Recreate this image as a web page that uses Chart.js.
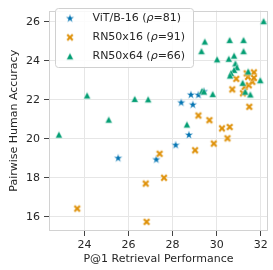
<!DOCTYPE html>
<html>
<head>
<meta charset="utf-8">
<script src="https://cdn.jsdelivr.net/npm/chart.js@4.4.0/dist/chart.umd.min.js"></script>
<style>
html, body { margin: 0; padding: 0; background: #fff; }
#plot { display: block; }
</style>
</head>
<body>
<canvas id="plot" width="273" height="270"></canvas>
<script>
var seriesNames = ["ViT/B-16", "RN50x16", "RN50x64"];
var seriesRho = [81, 91, 66];
var seriesColors = ["#0173b2", "#de8f05", "#029e73"];

var xTicks = [24, 26, 28, 30, 32];
var yTicks = [16, 18, 20, 22, 24, 26];

// ViT/B-16
var vitX = [25.53, 27.26, 28.14, 28.74, 28.39, 28.92, 28.83, 29.17, 29.42];
var vitY = [19.00, 18.93, 19.67, 20.19, 21.85, 21.74, 22.25, 22.24, 22.42];

// RN50x16
var rn16X = [23.67, 26.78, 26.82, 27.41, 27.61, 29.02, 29.87, 30.49, 29.17, 29.67, 30.24, 30.59,
             31.48, 30.71, 30.89, 31.19, 31.27, 31.46, 31.62, 31.42, 31.36, 31.69, 31.69];
var rn16Y = [16.42, 17.70, 15.74, 19.23, 18.00, 19.41, 19.75, 20.02, 21.19, 20.95, 20.53, 20.60,
             21.64, 22.53, 23.07, 22.33, 22.66, 22.74, 22.92, 23.17, 23.35, 23.40, 23.12];

// RN50x64
var rn64X = [22.84, 24.12, 25.10, 26.28, 26.89, 28.65, 29.34, 29.42, 29.82, 29.31, 29.46, 30.02,
             30.55, 30.79, 30.59, 31.22, 31.22, 32.13, 30.85, 30.92, 30.79, 30.65, 30.61, 31.43,
             31.18, 31.98, 31.30, 31.53];
var rn64Y = [20.21, 22.22, 20.98, 22.04, 22.02, 20.73, 22.45, 22.42, 22.29, 24.49, 24.98, 24.07,
             24.10, 24.26, 25.06, 25.06, 24.49, 26.03, 23.86, 23.66, 23.53, 23.37, 23.24, 23.45,
             22.87, 23.00, 22.41, 22.27];

var gridColor = "#e6e6e6";
var frameColor = "#d2d2d2";
var textColor = "#262626";
var fontFamily = "'DejaVu Sans', sans-serif";

function pts(xs, ys) {
  return xs.map(function (x, i) { return { x: x, y: ys[i] }; });
}

// little canvases used as point styles (filled star, X, triangle like matplotlib)
function makeMarker(shape, color) {
  var c = document.createElement("canvas");
  c.width = 10; c.height = 10;
  var g = c.getContext("2d");
  g.translate(5, 5);
  g.beginPath();
  if (shape === "star") {
    for (var i = 0; i < 10; i++) {
      var r = i % 2 ? 1.8 : 4.5;
      var a = -Math.PI / 2 + i * Math.PI / 5;
      g.lineTo(r * Math.cos(a), r * Math.sin(a));
    }
  } else if (shape === "tri") {
    g.moveTo(0, -3.5); g.lineTo(3.5, 3.3); g.lineTo(-3.5, 3.3);
  } else {
    var w = 1.15, l = 4.0;
    var p = [[w, w], [w, l], [-w, l], [-w, w], [-l, w], [-l, -w], [-w, -w], [-w, -l], [w, -l], [w, -w], [l, -w], [l, w]];
    g.rotate(Math.PI / 4);
    p.forEach(function (q) { g.lineTo(q[0], q[1]); });
  }
  g.closePath();
  g.fillStyle = color;
  g.fill();
  g.lineWidth = 0.5;
  g.strokeStyle = "rgba(255,255,255,0.8)";
  g.stroke();
  return c;
}

var markers = [
  makeMarker("star", seriesColors[0]),
  makeMarker("x", seriesColors[1]),
  makeMarker("tri", seriesColors[2])
];

var framePlugin = {
  id: "frame",
  beforeDatasetsDraw: function (chart) {
    var a = chart.chartArea, c = chart.ctx;
    c.save();
    c.strokeStyle = frameColor;
    c.lineWidth = 1;
    c.strokeRect(Math.round(a.left) + 0.5, Math.round(a.top) + 0.5,
                 Math.round(a.right - a.left) - 1, Math.round(a.bottom - a.top) - 1);
    c.restore();
  }
};

var legendPlugin = {
  id: "boxLegend",
  afterDraw: function (chart) {
    var c = chart.ctx;
    var bx = 55, by = 8, bw = 138, bh = 59;
    c.save();
    c.beginPath();
    c.roundRect(bx + 0.5, by + 0.5, bw, bh, 3);
    c.fillStyle = "rgba(255,255,255,0.85)";
    c.fill();
    c.strokeStyle = "#d0d0d0";
    c.lineWidth = 1;
    c.stroke();
    c.textBaseline = "middle";
    c.fillStyle = textColor;
    for (var i = 0; i < seriesNames.length; i++) {
      var y = 18.5 + i * 18.9;
      var m = markers[i];
      c.drawImage(m, 70 - m.width / 2, y - m.height / 2);
      var parts = [
        [seriesNames[i] + " (", "normal"],
        ["\u03c1", "italic"],
        ["=" + seriesRho[i] + ")", "normal"]
      ];
      var x = 92.5;
      parts.forEach(function (p) {
        c.font = p[1] + " 11px " + fontFamily;
        c.fillText(p[0], x, y);
        x += c.measureText(p[0]).width;
      });
    }
    c.restore();
  }
};

var ctx = document.getElementById("plot");

var myChart = new Chart(ctx, {
  type: "scatter",
  data: {
    datasets: [
      { label: seriesNames[0], data: pts(vitX, vitY), pointStyle: markers[0], order: 3 },
      { label: seriesNames[1], data: pts(rn16X, rn16Y), pointStyle: markers[1], order: 2 },
      { label: seriesNames[2], data: pts(rn64X, rn64Y), pointStyle: markers[2], order: 1 }
    ]
  },
  options: {
    responsive: false,
    animation: false,
    devicePixelRatio: 1,
    layout: { padding: { top: 2, right: 3, left: 0, bottom: 0 } },
    plugins: {
      legend: { display: false },
      tooltip: { enabled: false }
    },
    scales: {
      x: {
        type: "linear",
        min: 22.39,
        max: 32.33,
        afterBuildTicks: function (s) { s.ticks = xTicks.map(function (v) { return { value: v }; }); },
        afterFit: function (s) { s.height = 39; },
        grid: { color: gridColor, tickColor: "#444", tickLength: 5, lineWidth: 1 },
        border: { display: false },
        ticks: { color: textColor, font: { family: fontFamily, size: 11 }, padding: 3, maxRotation: 0 },
        title: {
          display: true, text: "P@1 Retrieval Performance", color: textColor,
          font: { family: fontFamily, size: 11 }, padding: { top: 0, bottom: 4 }
        }
      },
      y: {
        type: "linear",
        min: 15.27,
        max: 26.57,
        afterBuildTicks: function (s) { s.ticks = yTicks.map(function (v) { return { value: v }; }); },
        afterFit: function (s) { s.width = 49; },
        grid: { color: gridColor, tickColor: "#444", tickLength: 5, lineWidth: 1 },
        border: { display: false },
        ticks: { color: textColor, font: { family: fontFamily, size: 11 }, padding: 4 },
        title: {
          display: true, text: "Pairwise Human Accuracy", color: textColor,
          font: { family: fontFamily, size: 11 }, padding: { top: 8, bottom: 0 }
        }
      }
    }
  },
  plugins: [framePlugin, legendPlugin]
});
</script>
</body>
</html>
